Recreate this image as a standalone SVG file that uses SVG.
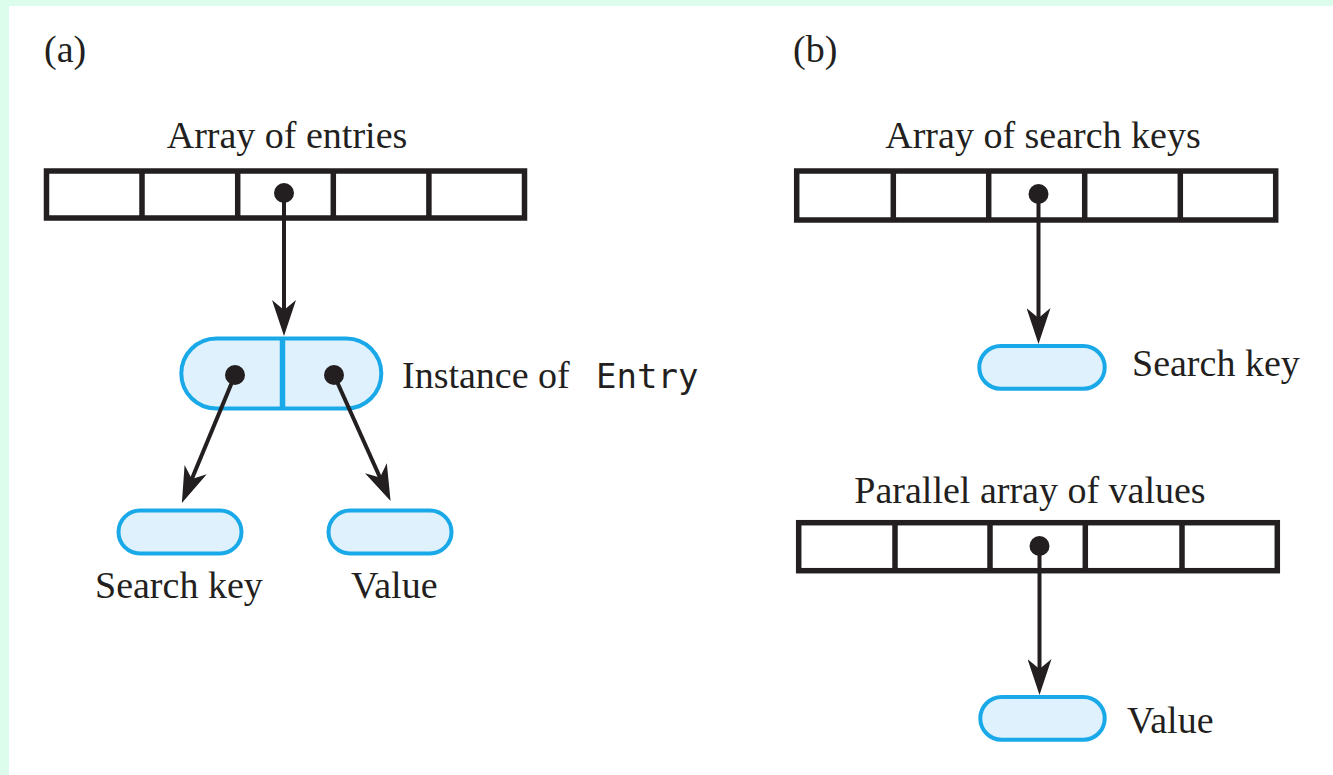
<svg xmlns="http://www.w3.org/2000/svg" width="1333" height="775" viewBox="0 0 1333 775">
  <defs>
    <style>
      .bg { fill: #dcfcec; }
      .arr { fill: none; stroke: #231f20; stroke-width: 5.5; }
      .div { stroke: #231f20; stroke-width: 5.5; }
      .pill { fill: #dff1fc; stroke: #1aa9e8; stroke-width: 4; }
      .pdiv { stroke: #1aa9e8; stroke-width: 5.5; }
      .dot { fill: #231f20; }
      .lbl { font-family: "Liberation Serif", "Times New Roman", serif; font-size: 38px; fill: #231f20; }
      .mono { font-family: "DejaVu Sans Mono", "Liberation Mono", monospace; font-size: 34px; fill: #231f20; }
      .conn { stroke: #231f20; stroke-width: 4; fill: none; marker-end: url(#ah); }
    </style>
    <marker id="ah" markerUnits="userSpaceOnUse" viewBox="0 0 36 24" refX="26" refY="12" markerWidth="36" markerHeight="24" orient="auto">
      <path d="M0,0 L36,12 L0,24 L10,12 Z" fill="#231f20"/>
    </marker>
  </defs>

  <rect x="0" y="0" width="1333" height="775" fill="#ffffff"/>
  <rect class="bg" x="0" y="0" width="1333" height="6"/>
  <rect class="bg" x="0" y="0" width="9" height="775"/>

  <text class="lbl" x="44" y="62">(a)</text>
  <text class="lbl" x="793" y="62">(b)</text>

  <g id="array-entries">
    <rect class="arr" x="46.5" y="171" width="478" height="47"/>
    <line class="div" x1="142" y1="171" x2="142" y2="218"/>
    <line class="div" x1="237.7" y1="171" x2="237.7" y2="218"/>
    <line class="div" x1="333.3" y1="171" x2="333.3" y2="218"/>
    <line class="div" x1="428.9" y1="171" x2="428.9" y2="218"/>
    <text class="lbl" x="287" y="148" text-anchor="middle">Array of entries</text>
  </g>

  <g id="entry">
    <rect class="pill" x="181.3" y="338.5" width="200" height="70" rx="35"/>
    <line class="pdiv" x1="282.5" y1="338.5" x2="282.5" y2="408.5"/>
    <text class="lbl" x="402" y="388">Instance of</text>
    <text class="mono" x="596" y="388">Entry</text>
  </g>

  <g id="search-key-a">
    <rect class="pill" x="118.5" y="510.5" width="123" height="43" rx="21.5"/>
    <text class="lbl" x="95" y="598">Search key</text>
  </g>

  <g id="value-a">
    <rect class="pill" x="328.5" y="510.5" width="123" height="43" rx="21.5"/>
    <text class="lbl" x="351" y="598">Value</text>
  </g>

  <g id="array-keys">
    <rect class="arr" x="796.7" y="171" width="479" height="49"/>
    <line class="div" x1="893.3" y1="171" x2="893.3" y2="220"/>
    <line class="div" x1="988.7" y1="171" x2="988.7" y2="220"/>
    <line class="div" x1="1084.7" y1="171" x2="1084.7" y2="220"/>
    <line class="div" x1="1180.3" y1="171" x2="1180.3" y2="220"/>
    <text class="lbl" x="1043" y="148" text-anchor="middle">Array of search keys</text>
  </g>

  <g id="search-key-b">
    <rect class="pill" x="979.3" y="346" width="125.4" height="42.7" rx="21.3"/>
    <text class="lbl" x="1132" y="376">Search key</text>
  </g>

  <g id="array-values">
    <rect class="arr" x="798.7" y="522.7" width="478.6" height="48"/>
    <line class="div" x1="895" y1="522.7" x2="895" y2="570.7"/>
    <line class="div" x1="990" y1="522.7" x2="990" y2="570.7"/>
    <line class="div" x1="1085.3" y1="522.7" x2="1085.3" y2="570.7"/>
    <line class="div" x1="1182" y1="522.7" x2="1182" y2="570.7"/>
    <text class="lbl" x="1030" y="503" text-anchor="middle">Parallel array of values</text>
  </g>

  <g id="value-b">
    <rect class="pill" x="980.3" y="697" width="124.4" height="42.7" rx="21.3"/>
    <text class="lbl" x="1127" y="733">Value</text>
  </g>

  <g id="connectors">
    <line class="conn" x1="284" y1="193" x2="284" y2="326"/>
    <circle class="dot" cx="284" cy="193" r="10"/>
    <line class="conn" x1="235" y1="375" x2="185.7" y2="493.7"/>
    <circle class="dot" cx="235" cy="375" r="10"/>
    <line class="conn" x1="334" y1="375" x2="386.5" y2="492"/>
    <circle class="dot" cx="334" cy="375" r="10"/>
    <line class="conn" x1="1038.5" y1="194" x2="1038.5" y2="334"/>
    <circle class="dot" cx="1038.5" cy="194" r="10"/>
    <line class="conn" x1="1039.5" y1="546" x2="1039.5" y2="685"/>
    <circle class="dot" cx="1039.5" cy="546" r="10"/>
  </g>
</svg>
